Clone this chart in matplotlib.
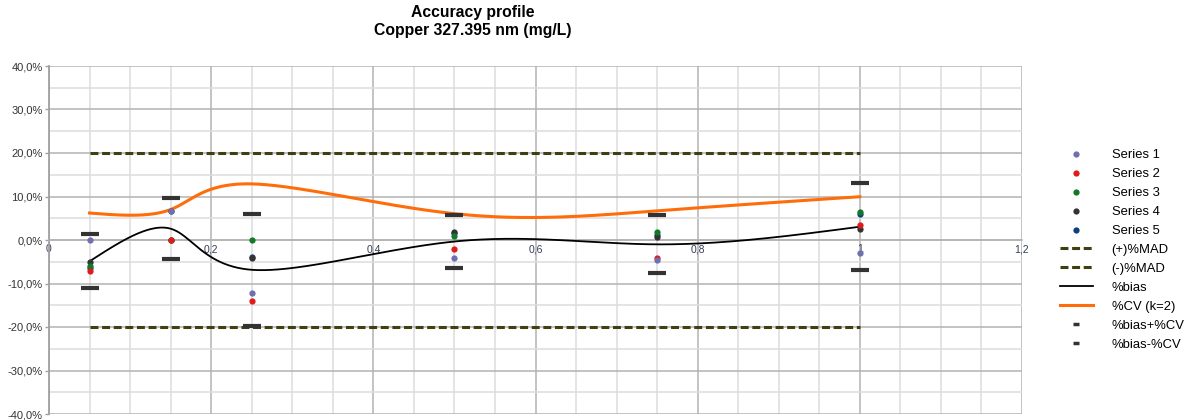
import numpy as np
import matplotlib.pyplot as plt
from matplotlib.lines import Line2D
from matplotlib.ticker import MultipleLocator, FuncFormatter

plt.rcParams['font.family'] = ['Liberation Sans', 'DejaVu Sans']

# concentration levels and per-series relative deviation (%)
levels = [0.05, 0.15, 0.25, 0.5, 0.75, 1.0]
series1 = [0.0, 6.6, -12.1, -4.1, -4.6, -3.1]
series2 = [-7.1, 0.0, -14.1, -2.1, -4.1, 3.45]
series3 = [-6.0, 0.0, 0.0, 0.9, 1.9, 6.4]
series4 = [-5.0, 6.6, -4.1, 1.9, 0.6, 2.45]
series5 = [-6.4, 0.0, -3.9, 1.5, 1.15, 6.0]
bias = [-4.9, 2.6, -6.85, -0.35, -1.0, 3.05]
cv_k2 = [6.2, 7.0, 12.9, 6.05, 6.7, 9.95]
mad = [20, 20, 20, 20, 20, 20]

series = [series1, series2, series3, series4, series5]
series_names = ["Series 1", "Series 2", "Series 3", "Series 4", "Series 5"]
series_colors = ["#7070b0", "#e01b1b", "#117a27", "#333333", "#0d3f7c"]

olive = "#3f3f12"
orange = "#ff6d0a"
bar_color = "#333333"


def spline_coeffs(t, y):
    h = np.diff(t)
    k = len(t)
    A = np.zeros((k, k))
    r = np.zeros(k)
    A[0, 0] = A[-1, -1] = 1
    for i in range(1, k - 1):
        A[i, i - 1] = h[i - 1]
        A[i, i] = 2 * (h[i - 1] + h[i])
        A[i, i + 1] = h[i]
        r[i] = 6 * ((y[i + 1] - y[i]) / h[i] - (y[i] - y[i - 1]) / h[i - 1])
    return np.linalg.solve(A, r)


def spline_eval(t, y, m, ts):
    idx = np.clip(np.searchsorted(t, ts) - 1, 0, len(t) - 2)
    t0, t1 = t[idx], t[idx + 1]
    hh = t1 - t0
    a = (t1 - ts) / hh
    b = (ts - t0) / hh
    return (a * y[idx] + b * y[idx + 1]
            + ((a ** 3 - a) * m[idx] + (b ** 3 - b) * m[idx + 1]) * hh ** 2 / 6)


def smooth_curve(x, y, n=500):
    # parametric cubic spline, one parameter step per data point
    x = np.asarray(x, float)
    y = np.asarray(y, float)
    t = np.arange(len(x), dtype=float)
    ts = np.linspace(0, t[-1], n)
    xs = spline_eval(t, x, spline_coeffs(t, x), ts)
    ys = spline_eval(t, y, spline_coeffs(t, y), ts)
    return xs, ys


fig = plt.figure(figsize=(12.01, 4.2), dpi=100)
ax = fig.add_axes([49 / 1201, 6 / 420, 973 / 1201, 348 / 420])

# +/- MAD acceptance limits
ax.plot(levels, mad, color=olive, lw=2.2, dashes=(2.6, 1.2), zorder=3)
ax.plot(levels, [-v for v in mad], color=olive, lw=2.2, dashes=(2.6, 1.2), zorder=3)

# smoothed bias and CV curves
bx, by = smooth_curve(levels, bias)
ax.plot(bx, by, color="black", lw=1.3, zorder=4)
cx, cy = smooth_curve(levels, cv_k2)
ax.plot(cx, cy, color=orange, lw=2.2, zorder=4)

# bias +/- CV interval markers
upper = [b + c for b, c in zip(bias, cv_k2)]
lower = [b - c for b, c in zip(bias, cv_k2)]
ax.plot(levels, upper, ls="none", marker="_", ms=12.5, mew=3.0, color=bar_color, zorder=5)
ax.plot(levels, lower, ls="none", marker="_", ms=12.5, mew=3.0, color=bar_color, zorder=5)

# individual series points, last series underneath
for i in reversed(range(len(series))):
    ax.plot(levels, series[i], ls="none", marker="o", ms=4.5, mew=0,
            color=series_colors[i], zorder=6)

ax.set_xlim(0, 1.2)
ax.set_ylim(-40, 40)
ax.xaxis.set_major_locator(MultipleLocator(0.2))
ax.xaxis.set_minor_locator(MultipleLocator(0.05))
ax.yaxis.set_major_locator(MultipleLocator(10))
ax.yaxis.set_minor_locator(MultipleLocator(5))


def x_fmt(v, pos):
    s = "%g" % round(v, 2)
    return s.replace(".", ",")


ax.xaxis.set_major_formatter(FuncFormatter(x_fmt))
ax.yaxis.set_major_formatter(FuncFormatter(lambda v, p: ("%.1f%%" % v).replace(".", ",")))

ax.grid(which="major", color="#b3b3b3", lw=1.1)
ax.grid(which="minor", color="#dddddd", lw=1.1)
ax.set_axisbelow(True)

for side in ["top", "right"]:
    ax.spines[side].set_visible(False)
ax.spines["left"].set_color("#a0a0a0")
ax.spines["left"].set_linewidth(1.3)
ax.spines["bottom"].set_position(("data", 0))
ax.spines["bottom"].set_color("#b3b3b3")
ax.spines["bottom"].set_linewidth(1.1)

ax.tick_params(axis="y", which="major", length=3, width=1, color="#a0a0a0",
               pad=1.5, labelsize=8, labelcolor="#333333")
ax.tick_params(axis="y", which="minor", length=0)
ax.tick_params(axis="x", which="both", length=0, pad=3, labelsize=7.5,
               labelcolor="#333f5a")

fig.text(473 / 1201, 1 - 13 / 420, "Accuracy profile", ha="center", va="center",
         fontsize=11.3, fontweight="bold")
fig.text(473 / 1201, 1 - 31 / 420, "Copper 327.395 nm (mg/L)", ha="center", va="center",
         fontsize=11.3, fontweight="bold")

handles = []
for name, col in zip(series_names, series_colors):
    handles.append(Line2D([], [], ls="none", marker="o", ms=4.5, mew=0, color=col, label=name))
handles.append(Line2D([], [], color=olive, lw=2.2, dashes=(2.6, 1.2), label="(+)%MAD"))
handles.append(Line2D([], [], color=olive, lw=2.2, dashes=(2.6, 1.2), label="(-)%MAD"))
handles.append(Line2D([], [], color="black", lw=1.3, label="%bias"))
handles.append(Line2D([], [], color=orange, lw=2.2, label="%CV (k=2)"))
handles.append(Line2D([], [], ls="none", marker="_", ms=5, mew=2.5, color=bar_color,
                      label="%bias+%CV"))
handles.append(Line2D([], [], ls="none", marker="_", ms=5, mew=2.5, color=bar_color,
                      label="%bias-%CV"))

fig.legend(handles=handles, loc="center left", bbox_to_anchor=(1060 / 1201, 1 - 250 / 420),
           frameon=False, fontsize=9.4, handlelength=2.5, handletextpad=1.45,
           labelspacing=0.52, borderpad=0, borderaxespad=0)

fig.savefig("out.png", dpi=100)
